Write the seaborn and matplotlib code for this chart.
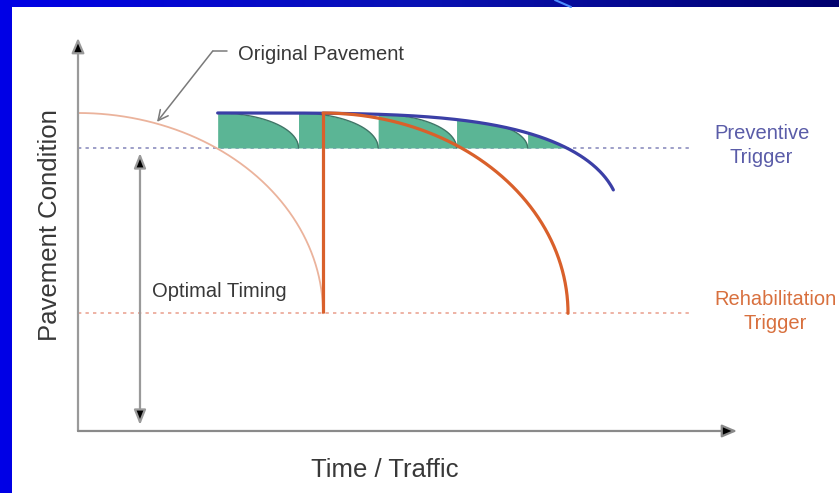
import numpy as np
import matplotlib
matplotlib.use("Agg")
import matplotlib.pyplot as plt
from matplotlib.patches import Rectangle
import seaborn as sns

sns.set_theme(style="white")
plt.rcParams["font.family"] = ["Liberation Sans", "DejaVu Sans"]

# ---- condition levels (index, 0 = failed) ----
initial_condition = 100
preventive_trigger = 89
rehab_trigger = 37

# ---- timing (years) ----
design_life = 20.0              # original pavement reaches the rehab trigger
rehab_year = 20.0               # rehabilitation applied
treatment_years = [11.4, 18.0, 24.5, 30.9, 36.7]   # preventive treatments
preserved_life = 32.8           # life of the preserved (blue) curve
preserved_floor = 68
preserved_shape = 4
preserved_end = 43.7
trigger_end = 50.0
axis_time_max = 53.8
axis_cond_max = 123.6
timing_year = 5.06
timing_span = [1.9, 87.4]

GREEN = "#5bb595"
BLUE = "#3b3fa6"
RED = "#d9602b"
SALMON = "#ebb39c"


def condition(t, start, life, c0, c_end, shape=2.0):
    """Deterioration curve: flat at first, dropping faster near end of life."""
    r = np.clip((np.asarray(t) - start) / life, 0, 1)
    return c_end + (c0 - c_end) * np.sqrt(np.clip(1 - r ** shape, 0, None))


def preserved(t):
    return condition(t, treatment_years[0], preserved_life,
                     initial_condition, preserved_floor, preserved_shape)


fig = plt.figure(figsize=(8.39, 4.93), dpi=100)

# slide backdrop: blue gradient frame around a white panel
bg = fig.add_axes([0, 0, 1, 1])
grad = np.linspace(0, 1, 256)[None, :]
cmap = matplotlib.colors.LinearSegmentedColormap.from_list("frame", ["#0000e6", "#0a12b4", "#00006e"])
bg.imshow(grad, aspect="auto", cmap=cmap, extent=[0, 839, 493, 0])
bg.plot([555, 571], [0, 7], color="#4d8cff", lw=1.5)
bg.add_patch(Rectangle((12, 7), 827, 486, facecolor="white", edgecolor="none"))
bg.set_xlim(0, 839)
bg.set_ylim(493, 0)
bg.axis("off")

ax = fig.add_axes([12 / 839, 0, 827 / 839, 486 / 493])
ax.set_xlim(-5.388, 62.12)
ax.set_ylim(-19.5, 133.33)
ax.axis("off")

# trigger levels
ax.plot([0, trigger_end], [preventive_trigger] * 2, color="#8d8fbf", lw=1.2,
        ls=(0, (2, 2.5)), zorder=1)
ax.plot([0, trigger_end], [rehab_trigger] * 2, color="#eba595", lw=1.2,
        ls=(0, (2, 2.5)), zorder=1)

# preventive treatment cycles (green band)
t_cross = treatment_years[0] + preserved_life * (
    1 - ((preventive_trigger - preserved_floor) / (initial_condition - preserved_floor)) ** 2
) ** (1 / preserved_shape)
bounds = treatment_years + [t_cross]
for i in range(len(bounds) - 1):
    t0, t1 = bounds[i], bounds[i + 1]
    t = t0 + (t1 - t0) * np.sin(np.linspace(0, np.pi / 2, 200))
    top = preserved(t)
    if i < len(treatment_years) - 1:
        notch = condition(t, t0, t1 - t0, float(preserved(t0)), preventive_trigger)
        upper = np.minimum(notch, top)
        ax.plot(t, upper, color="#3f7566", lw=1.0, zorder=2.5)
    else:
        upper = top
    ax.fill_between(t, preventive_trigger, upper, color=GREEN, lw=0, zorder=2)

# original pavement
t_orig = design_life * np.sin(np.linspace(0, np.pi / 2, 300))
sns.lineplot(x=t_orig, y=condition(t_orig, 0, design_life, initial_condition, rehab_trigger),
             ax=ax, color=SALMON, lw=1.3, estimator=None, sort=False, zorder=3)

# preserved pavement (blue)
t_blue = np.linspace(treatment_years[0], preserved_end, 300)
sns.lineplot(x=t_blue, y=preserved(t_blue), ax=ax, color=BLUE, lw=2.3,
             estimator=None, sort=False, zorder=4)

# rehabilitation jump and new deterioration
ax.plot([rehab_year, rehab_year], [rehab_trigger, initial_condition], color=RED,
        lw=2.3, zorder=5, solid_capstyle="butt")
t_red = rehab_year + design_life * np.sin(np.linspace(0, np.pi / 2, 300))
sns.lineplot(x=t_red, y=condition(t_red, rehab_year, design_life, initial_condition, rehab_trigger),
             ax=ax, color=RED, lw=2.3, estimator=None, sort=False, zorder=5)

# axes with arrowheads
head = "-|>,head_length=0.75,head_width=0.32"
ax.annotate("", xy=(0, axis_cond_max), xytext=(0, 0),
            arrowprops=dict(arrowstyle=head, fc="black", ec="#9a9a9a", lw=1.6,
                            shrinkA=0, shrinkB=0))
ax.annotate("", xy=(axis_time_max, 0), xytext=(0, 0),
            arrowprops=dict(arrowstyle=head, fc="black", ec="#8a8a8a", lw=1.6,
                            shrinkA=0, shrinkB=0))

# optimal timing span
ax.annotate("", xy=(timing_year, timing_span[1]), xytext=(timing_year, timing_span[0]),
            arrowprops=dict(arrowstyle="<|-|>,head_length=0.75,head_width=0.3",
                            fc="black", ec="#9a9a9a", lw=1.6, shrinkA=0, shrinkB=0))

# leader for the original pavement
ax.plot([12.2, 11.0], [119.5, 119.5], color="#7a7a7a", lw=1.1)
ax.annotate("", xy=(6.45, 97.2), xytext=(11.0, 119.5),
            arrowprops=dict(arrowstyle="->,head_length=0.6,head_width=0.3",
                            color="#7a7a7a", lw=1.1, shrinkA=0, shrinkB=0))

txt = "#383838"
ax.text(13.06, 116.7, "Original Pavement", fontsize=14.5, color=txt, ha="left", va="baseline")
ax.text(6.04, 42.1, "Optimal Timing", fontsize=14.5, color=txt, ha="left", va="baseline")
ax.text(55.8, 91.8, "Preventive", fontsize=14.5, color="#5a5ca8", ha="center", va="baseline")
ax.text(55.8, 84.3, "Trigger", fontsize=14.5, color="#5a5ca8", ha="center", va="baseline")
ax.text(56.9, 39.6, "Rehabilitation", fontsize=14.5, color="#d8703e", ha="center", va="baseline")
ax.text(56.9, 32.1, "Trigger", fontsize=14.5, color="#d8703e", ha="center", va="baseline")
ax.text(25.06, -14.5, "Time / Traffic", fontsize=18.5, color=txt, ha="center", va="baseline")
ax.text(-1.71, 64.8, "Pavement Condition", fontsize=18.5, color=txt, ha="center",
        va="baseline", rotation=90, rotation_mode="anchor")

fig.savefig("out.png", dpi=100)
